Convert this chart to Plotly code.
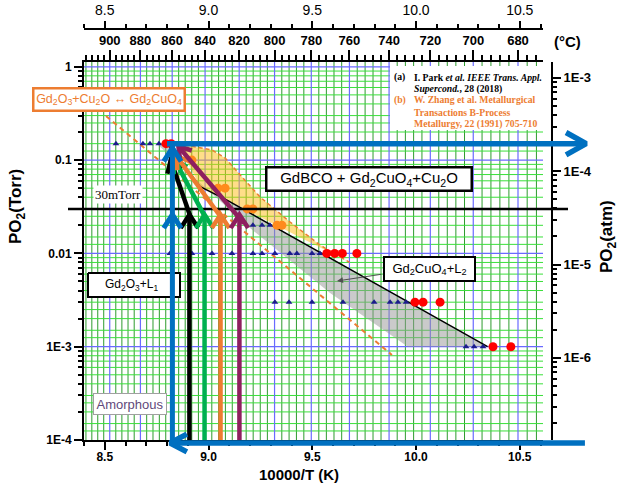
import numpy as np
import plotly.graph_objects as go

# ---------------- data ----------------
# Ref (a) Park et al.: triangles = no melting, red dots = melting
tri_x = [8.554, 8.684, 8.718, 8.761,
         8.814, 8.920, 9.017, 9.113, 9.214, 9.258, 9.320, 9.392, 9.426, 9.499, 9.537,
         9.214, 9.258, 9.296,
         9.320, 9.388, 9.499, 9.648, 9.798, 9.875, 9.913, 9.952,
         10.241, 10.280, 10.323]
tri_p = [0.15] * 4 + [0.01] * 11 + [0.02] * 3 + [0.003] * 8 + [0.001] * 3
red_x = [8.795, 8.820, 9.570, 9.608, 9.645, 9.715, 9.995, 10.034, 10.116, 10.371, 10.457]
red_p = [0.15, 0.15, 0.01, 0.01, 0.01, 0.01, 0.003, 0.003, 0.003, 0.001, 0.001]
# Ref (b) Zhang et al.: orange dots
org_x = [8.920, 9.046, 9.080, 9.186, 9.214, 9.330, 9.354]
org_p = [0.10, 0.05, 0.05, 0.03, 0.03, 0.02, 0.02]

# phase boundary (black solid)
bnd_x = [8.800, 8.960, 9.089, 10.345]
bnd_p = [0.15, 0.052, 0.0373, 0.001]
# grey band, lower edge
grey_lo_x = [8.750, 9.200, 9.586, 9.961, 10.345]
grey_lo_p = [0.15, 0.0187, 0.00377, 0.001, 0.001]
# yellow region (ref b): upper dashed edge and lower edge
yel_up_x = [8.853, 9.017, 9.080, 9.152, 9.248, 9.393, 9.537, 9.680]
yel_up_p = [0.149, 0.1285, 0.1054, 0.0692, 0.0403, 0.0217, 0.0123, 0.0080]
yel_lo_x = [9.680, 9.089, 8.960, 8.853]
yel_lo_p = [0.0080, 0.0373, 0.052, 0.149]
# lower dashed orange line (ref b)
dash_x = [8.506, 9.884]
dash_p = [0.297, 8.15e-4]

# process arrows
A_x, A_p = 8.826, 0.15            # 860 C, 150 mTorr
vert_x = [8.908, 8.981, 9.058, 9.149]          # 850, 840, 830, 820 C
vert_col = ["#000000", "#00B050", "#ED7D31", "#8E1F5F"]
diag_start_x = [8.915, 8.990, 9.075, 9.170]
diag_start_p = [0.024, 0.023, 0.022, 0.021]
diag_end_x = [8.818, 8.838, 8.846, 8.855]
diag_end_p = [0.100, 0.100, 0.110, 0.140]
chev_p = 0.026
blue_top_tip_p = 0.135
blue_right_x = 10.81
bottom_p = 9.29e-5
bottom_x = [10.814, 8.815]
torr_30m = 0.03

celsius_major = list(range(900, 679, -20))
celsius_minor = [c for c in range(672, 917, 4) if c % 20 != 0]
x_major = [8.5, 9.0, 9.5, 10.0, 10.5]
x_major_txt = ["8.5", "9.0", "9.5", "10.0", "10.5"]
torr_ticks = [1e-4, 1e-3, 1e-2, 1e-1, 1]
torr_txt = ["1E-4", "1E-3", "0.01", "0.1", "1"]
atm_ticks = [1e-6, 1e-5, 1e-4, 1e-3]
atm_txt = ["1E-6", "1E-5", "1E-4", "1E-3"]
grid_mult = [1.25, 1.5, 2, 2.5, 3, 4, 5, 6, 7, 8, 9]

# ---------------- layout geometry ----------------
W, H = 623, 486
PX_L, PX_R, PX_T, PX_B = 84, 543, 62, 440
PX_RAX, PX_TOP2 = 552, 29
X_MIN, X_MAX = 8.4, 10.612
Y_MIN, Y_MAX = -4.0, 0.0514
LOG760 = np.log10(760.0)

xdom = [PX_L / W, PX_R / W]
ydom = [(H - PX_B) / H, (H - PX_T) / H]
kx = (X_MAX - X_MIN) / (PX_R - PX_L)
ky = (Y_MAX - Y_MIN) / (PX_B - PX_T)
X4 = [X_MIN - PX_L * kx, X_MAX + (W - PX_R) * kx]
Y4 = [Y_MIN - (H - PX_B) * ky, Y_MAX + PX_T * ky]


def to_px(x, p):
    return (x - X4[0]) / kx, (Y4[1] - np.log10(p)) / ky


def from_px(px, py):
    return X4[0] + px * kx, 10 ** (Y4[1] - py * ky)


def chevron(tip_x, tip_p, from_x, from_p, L=14, half=35):
    tx, ty = to_px(tip_x, tip_p)
    fx, fy = to_px(from_x, from_p)
    ang = np.arctan2(fy - ty, fx - tx)
    out = []
    for s in (-1, 1):
        a = ang + s * np.radians(half)
        out.append(from_px(tx + L * np.cos(a), ty + L * np.sin(a)))
    (x1, p1), (x2, p2) = out
    return [x1, tip_x, x2], [p1, tip_p, p2]


def paper(px, py):
    return px / W, 1 - py / H


fig = go.Figure()
FONT = "Liberation Sans, Arial"
SERIF = "Liberation Serif, Times New Roman"


# ---------------- background grid ----------------
def vlines(xs):
    gx, gy = [], []
    for v in xs:
        gx += [v, v, None]
        gy += [1e-4, 10 ** Y_MAX, None]
    return gx, gy


def hlines(ps):
    gx, gy = [], []
    for v in ps:
        gx += [X_MIN, X_MAX, None]
        gy += [v, v, None]
    return gx, gy


def add_lines(gx, gy, color, width):
    fig.add_trace(go.Scatter(x=gx, y=gy, mode="lines", line=dict(color=color, width=width),
                             hoverinfo="skip", showlegend=False))


add_lines(*vlines([10000 / (c + 273.15) for c in celsius_minor]), "#2E9B2E", 1)
hp = [m * 10.0 ** k for k in range(-4, 1) for m in grid_mult if m * 10.0 ** k < 10 ** Y_MAX]
add_lines(*hlines(hp), "#3AE03A", 1)
add_lines(*vlines([10000 / (c + 273.15) for c in celsius_major]), "#6A6AFF", 1.2)
add_lines(*hlines(torr_ticks[1:]), "#6A6AFF", 1.2)

# ---------------- regions ----------------
fig.add_trace(go.Scatter(x=bnd_x + grey_lo_x[::-1], y=bnd_p + grey_lo_p[::-1], mode="lines",
                         fill="toself", fillcolor="rgba(150,150,150,0.5)", line=dict(width=0),
                         hoverinfo="skip", showlegend=False))
fig.add_trace(go.Scatter(x=yel_up_x + yel_lo_x, y=yel_up_p + yel_lo_p, mode="lines",
                         fill="toself", fillcolor="rgba(255,190,20,0.5)", line=dict(width=0),
                         hoverinfo="skip", showlegend=False))
fig.add_trace(go.Scatter(x=yel_up_x, y=yel_up_p, mode="lines",
                         line=dict(color="#ED7D31", width=1.5, dash="4px,3px"),
                         hoverinfo="skip", showlegend=False))
fig.add_trace(go.Scatter(x=dash_x, y=dash_p, mode="lines",
                         line=dict(color="#ED7D31", width=2, dash="5px,4px"),
                         hoverinfo="skip", showlegend=False))
fig.add_trace(go.Scatter(x=bnd_x, y=bnd_p, mode="lines", line=dict(color="black", width=1.5),
                         hoverinfo="skip", showlegend=False))

# ---------------- points ----------------
fig.add_trace(go.Scatter(x=tri_x, y=tri_p, mode="markers",
                         marker=dict(symbol="triangle-up", size=6, color="#1C1C8C"),
                         hoverinfo="skip", showlegend=False))
fig.add_trace(go.Scatter(x=org_x, y=org_p, mode="markers",
                         marker=dict(symbol="circle", size=9, color="#FF8A1C"),
                         hoverinfo="skip", showlegend=False))
fig.add_trace(go.Scatter(x=red_x, y=red_p, mode="markers",
                         marker=dict(symbol="circle", size=9, color="#FF0000"),
                         hoverinfo="skip", showlegend=False))


# ---------------- full-canvas subplot: label box, arrows ----------------
def line4(xs, ps, color, width, fill=None):
    kw = dict(x=xs, y=ps, mode="lines", xaxis="x4", yaxis="y4",
              line=dict(color=color, width=width), hoverinfo="skip", showlegend=False)
    if fill:
        kw.update(fill="toself", fillcolor=fill)
    fig.add_trace(go.Scatter(**kw))


# box of the Gd2O3+L1 label (lies under the blue arrow)
(bx0, bp0), (bx1, bp1) = from_px(88, 273), from_px(180, 297)
line4([bx0, bx1, bx1, bx0, bx0], [bp0, bp0, bp1, bp1, bp0], "black", 2, fill="white")

line4([from_px(68, 0)[0], from_px(568, 0)[0]], [torr_30m, torr_30m], "black", 2.5)

for xv, xs, ps, xe, pe, col in zip(vert_x, diag_start_x, diag_start_p, diag_end_x, diag_end_p,
                                   vert_col):
    line4([xv, xv], [1e-4, chev_p], col, 4.5)
    cx, cp = chevron(xv, chev_p, xv, 1e-4, L=16, half=33)
    line4(cx, cp, col, 4.5)
    line4([xs, xe], [ps, pe], col, 4.5)
    cx, cp = chevron(xe, pe, xs, ps, L=14, half=33)
    line4(cx, cp, col, 4.5)

BLUE = "#0070C0"
line4([A_x, A_x], [bottom_p, A_p], BLUE, 5)
cx, cp = chevron(A_x, chev_p, A_x, 1e-4, L=16, half=33)
line4(cx, cp, BLUE, 5)
cx, cp = chevron(A_x, blue_top_tip_p, A_x, 1e-4, L=16, half=33)
line4(cx, cp, BLUE, 5)
line4([8.80, blue_right_x], [A_p, A_p], BLUE, 5.5)
cx, cp = chevron(blue_right_x + 0.01, A_p, A_x, A_p, L=23, half=29)
line4(cx, cp, BLUE, 5.5)
line4(bottom_x, [bottom_p, bottom_p], BLUE, 5.5)
cx, cp = chevron(bottom_x[1], bottom_p, bottom_x[0], bottom_p, L=19, half=28)
line4(cx, cp, BLUE, 5.5)

# dummy traces so every axis is drawn
for xa, ya in (("x2", "y"), ("x3", "y"), ("x", "y2")):
    fig.add_trace(go.Scatter(x=[9.5], y=[0.01 if ya == "y" else 1e-5], xaxis=xa, yaxis=ya,
                             mode="markers", marker=dict(opacity=0), hoverinfo="skip",
                             showlegend=False))

# ---------------- axes ----------------
tickf = dict(family=FONT, size=12, color="black", weight="bold")
common = dict(showline=True, linecolor="black", linewidth=2, showgrid=False, zeroline=False,
              ticks="outside", tickcolor="black", tickwidth=1.5, automargin=False)
fig.update_layout(
    width=W, height=H, margin=dict(l=0, r=0, t=0, b=0), template="none",
    paper_bgcolor="white", plot_bgcolor="rgba(0,0,0,0)", showlegend=False,
    xaxis=dict(domain=xdom, range=[X_MIN, X_MAX], anchor="y", tickvals=x_major,
               ticktext=x_major_txt, ticklen=8, tickfont=tickf, ticklabelstandoff=-3,
               minor=dict(tick0=8.4, dtick=0.1, ticks="outside", ticklen=4, tickcolor="black",
                          tickwidth=1.5), **common),
    xaxis2=dict(domain=xdom, range=[X_MIN, X_MAX], overlaying="x", anchor="y", side="top",
                tickvals=[10000 / (c + 273.15) for c in celsius_major],
                ticktext=[str(c) for c in celsius_major], ticklen=10,
                tickfont=dict(family=FONT, size=13, color="black", weight="bold"),
                minor=dict(tickvals=[10000 / (c + 273.15) for c in celsius_minor],
                           ticks="outside", ticklen=5, tickcolor="black", tickwidth=1.5),
                **common),
    xaxis3=dict(domain=xdom, range=[X_MIN, X_MAX], overlaying="x", anchor="free",
                position=1 - PX_TOP2 / H, side="top", tickvals=x_major, ticktext=x_major_txt,
                ticklen=7, tickfont=dict(family=FONT, size=14, color="black"),
                minor=dict(tick0=8.4, dtick=0.1, ticks="outside", ticklen=4, tickcolor="black",
                           tickwidth=1.5), **common),
    yaxis=dict(domain=ydom, type="log", range=[Y_MIN, Y_MAX], anchor="x", tickvals=torr_ticks,
               ticktext=torr_txt, ticklen=8, tickfont=tickf,
               minor=dict(tickvals=[m * 10.0 ** k for k in range(-4, 0) for m in range(2, 10)],
                          ticks="outside", ticklen=4, tickcolor="black", tickwidth=1.5),
               **common),
    yaxis2=dict(domain=ydom, type="log", range=[Y_MIN - LOG760, Y_MAX - LOG760], overlaying="y",
                anchor="free", position=PX_RAX / W, side="right", tickvals=atm_ticks,
                ticktext=atm_txt, ticklen=8,
                tickfont=dict(family=FONT, size=13, color="black", weight="bold"),
                minor=dict(tickvals=[m * 10.0 ** k for k in range(-7, -2) for m in range(2, 10)],
                           ticks="outside", ticklen=4, tickcolor="black", tickwidth=1.5),
                **common),
    xaxis4=dict(domain=[0, 1], range=X4, anchor="y4", visible=False, fixedrange=True),
    yaxis4=dict(domain=[0, 1], range=Y4, type="log", anchor="x4", visible=False, fixedrange=True),
)


# ---------------- text ----------------
def ann(px, py, text, size=12, color="black", family=FONT, weight="normal", xanchor="center",
        angle=0, bg=None, border=None, bw=0, w=None, h=None):
    x, y = paper(px, py)
    kw = dict(x=x, y=y, xref="paper", yref="paper", text=text, showarrow=False,
              xanchor=xanchor, yanchor="middle", textangle=angle,
              font=dict(family=family, size=size, color=color, weight=weight))
    if bg:
        kw.update(bgcolor=bg)
    if border:
        kw.update(bordercolor=border, borderwidth=bw, borderpad=0)
    if w:
        kw.update(width=w, height=h, align="center", valign="middle")
    fig.add_annotation(**kw)


# white background for references
fig.add_shape(type="rect", xref="paper", yref="paper", x0=390 / W, x1=545 / W,
              y0=1 - 130 / H, y1=1 - 66 / H, fillcolor="white", line=dict(width=0), layer="above")

ann(17, 207, "PO<sub>2</sub>(Torr)", size=17, weight="bold", angle=-90)
ann(608, 237, "PO<sub>2</sub>(atm)", size=17, weight="bold", angle=-90)
ann(299, 474, "10000/T (K)", size=15, weight="bold")
ann(567, 42, "(°C)", size=15, weight="bold")

ann(109, 99.5, "Gd<sub>2</sub>O<sub>3</sub>+Cu<sub>2</sub>O \u2194 Gd<sub>2</sub>CuO<sub>4</sub>",
    size=12.5, color="#ED7D31", bg="white", border="#ED7D31", bw=2.5, w=149, h=20)
ann(369, 179, "GdBCO + Gd<sub>2</sub>CuO<sub>4</sub>+Cu<sub>2</sub>O", size=15,
    bg="white", border="black", bw=2.5, w=203, h=21)
ann(131, 285, "Gd<sub>2</sub>O<sub>3</sub>+L<sub>1</sub>", size=12)
ann(429.5, 269, "Gd<sub>2</sub>CuO<sub>4</sub>+L<sub>2</sub>", size=13,
    bg="white", border="black", bw=2, w=89, h=22)
ann(130, 404, "Amorphous", size=13, color="#5F497A", bg="white", border="#A0A0A0", bw=1,
    w=72, h=20)
ann(117.5, 194.5, "30mTorr", size=13, family=SERIF, bg="white")

# arrow from Gd2CuO4+L2 label
hx, hp_ = from_px(337, 281)
tx, tp = from_px(383, 274)
fig.add_annotation(x=hx, y=np.log10(hp_), ax=tx, ay=np.log10(tp), xref="x", yref="y",
                   axref="x", ayref="y", text="", showarrow=True, arrowhead=2, arrowsize=1,
                   arrowwidth=1.2, arrowcolor="#505050")

ref_font = 9.7
ann(392, 77, "<b>(a)</b>", size=ref_font, family=SERIF, xanchor="left")
ann(412, 77, "<b>I. Park <i>et al.</i> <i>IEEE Trans. Appl.</i></b>", size=ref_font,
    family=SERIF, xanchor="left")
ann(412, 88.5, "<b><i>Supercond.</i>, 28 (2018)</b>", size=ref_font, family=SERIF,
    xanchor="left")
ORG = "#ED7D31"
ann(392, 100, "<b>(b)</b>", size=ref_font, family=SERIF, xanchor="left", color=ORG)
ann(412, 100, "<b>W. Zhang et al. Metallurgical</b>", size=ref_font, family=SERIF,
    xanchor="left", color=ORG)
ann(412, 112, "<b>Transactions B-Process</b>", size=ref_font, family=SERIF, xanchor="left",
    color=ORG)
ann(412, 124, "<b>Metallurgy, 22 (1991) 705-710</b>", size=ref_font, family=SERIF,
    xanchor="left", color=ORG)

fig.write_html("out.html")
